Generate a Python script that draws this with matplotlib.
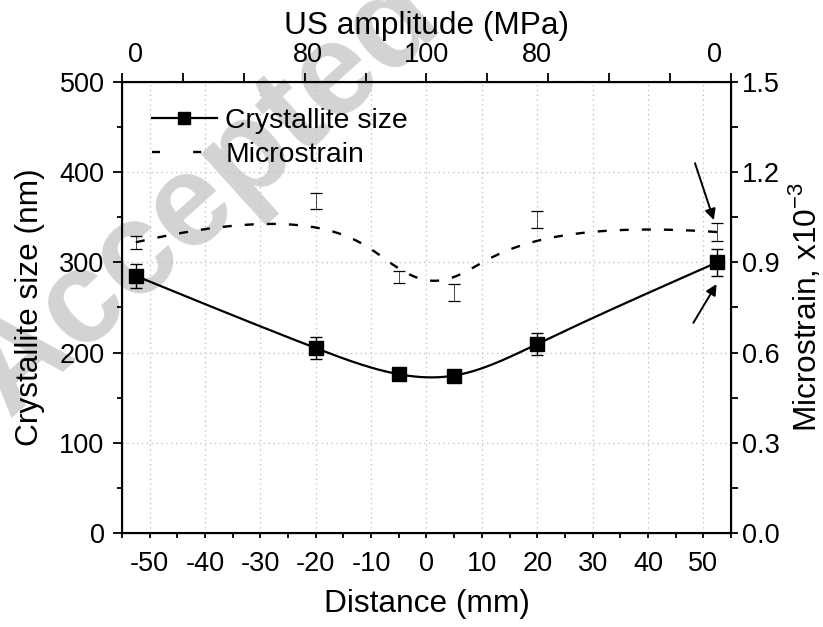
import numpy as np
import matplotlib
matplotlib.use('Agg')
import matplotlib.pyplot as plt
from matplotlib.lines import Line2D
from matplotlib.ticker import MultipleLocator, FormatStrFormatter

plt.rcParams['font.family'] = ['Liberation Sans', 'DejaVu Sans']
plt.rcParams['lines.scale_dashes'] = False
plt.rcParams['axes.unicode_minus'] = False

# data
distance = [-52.5, -20, -5, 5, 20, 52.5]
size_nm = [285, 205, 176, 174.5, 209.5, 300]
size_err = [13, 12, 4, 4, 12, 15]
strain = [0.967, 1.104, 0.851, 0.800, 1.042, 1.001]
strain_err = [0.022, 0.028, 0.021, 0.028, 0.028, 0.029]

top_pos = [-52.5, -21.5, 0, 20, 52]
top_labels = ['0', '80', '100', '80', '0']


def natural_spline(x, y, xs):
    # interpolating cubic spline, natural ends
    x = np.asarray(x, float)
    y = np.asarray(y, float)
    n = len(x)
    h = np.diff(x)
    A = np.zeros((n, n))
    r = np.zeros(n)
    A[0, 0] = A[-1, -1] = 1
    for i in range(1, n - 1):
        A[i, i - 1] = h[i - 1]
        A[i, i] = 2 * (h[i - 1] + h[i])
        A[i, i + 1] = h[i]
        r[i] = 6 * ((y[i + 1] - y[i]) / h[i] - (y[i] - y[i - 1]) / h[i - 1])
    M = np.linalg.solve(A, r)
    out = np.empty_like(xs)
    for k, xv in enumerate(xs):
        i = min(max(np.searchsorted(x, xv) - 1, 0), n - 2)
        t1 = x[i + 1] - xv
        t0 = xv - x[i]
        out[k] = (M[i] * t1**3 + M[i + 1] * t0**3) / (6 * h[i]) \
            + (y[i] / h[i] - M[i] * h[i] / 6) * t1 \
            + (y[i + 1] / h[i] - M[i + 1] * h[i] / 6) * t0
    return out


def bspline(px, py, num=300, k=3):
    # clamped cubic B-spline using the points as control points
    P = np.column_stack([px, py]).astype(float)
    n = len(P)
    knots = np.concatenate([np.zeros(k), np.arange(n - k + 1), np.full(k, n - k)])
    ts = np.linspace(0, n - k, num)
    ts[-1] -= 1e-9

    def basis(i, d, t):
        if d == 0:
            return 1.0 if knots[i] <= t < knots[i + 1] else 0.0
        a = b = 0.0
        if knots[i + d] != knots[i]:
            a = (t - knots[i]) / (knots[i + d] - knots[i]) * basis(i, d - 1, t)
        if knots[i + d + 1] != knots[i + 1]:
            b = (knots[i + d + 1] - t) / (knots[i + d + 1] - knots[i + 1]) * basis(i + 1, d - 1, t)
        return a + b

    pts = np.array([sum(basis(i, k, t) * P[i] for i in range(n)) for t in ts])
    return pts[:, 0], pts[:, 1]


fig = plt.figure(figsize=(8.23, 6.27), dpi=100)
ax = fig.add_axes([0.1482, 0.150, 0.740, 0.7192])
ax.set_facecolor('none')

# faint watermark behind the plot
fig.text(0.012, 0.33, 'Accepted manuscript', rotation=42, rotation_mode='anchor',
         fontsize=94, fontweight='bold', color='#d3d3d3', ha='left', va='baseline',
         zorder=-1, clip_on=True)

xs = np.linspace(distance[0], distance[-1], 400)
ax.plot(xs, natural_spline(distance, size_nm, xs), color='k', lw=1.6, zorder=3)
ax.errorbar(distance, size_nm, yerr=size_err, fmt='none', ecolor='k', elinewidth=1.0,
            capsize=4.5, capthick=1.0, zorder=3)
ax.plot(distance, size_nm, 's', color='k', ms=9.5, zorder=4)

ax.set_xlim(-55, 55)
ax.set_ylim(0, 500)
ax.set_xticks(np.arange(-50, 51, 10))
ax.xaxis.set_minor_locator(MultipleLocator(5))
ax.set_yticks(np.arange(0, 501, 100))
ax.yaxis.set_minor_locator(MultipleLocator(50))
ax.grid(True, which='major', ls=(0, (1, 2.5)), color='#c0c0c0', lw=0.9)
ax.tick_params(axis='x', which='both', length=3.8, width=1.3, pad=9, labelsize=19.5)
ax.tick_params(axis='y', which='major', length=6.5, width=1.3, pad=6, labelsize=19.5)
ax.tick_params(axis='y', which='minor', length=3.5, width=1.3)
ax.set_xlabel('Distance (mm)', fontsize=22.8, labelpad=9)
ax.set_ylabel('Crystallite size (nm)', fontsize=22.8, labelpad=10)
for s in ax.spines.values():
    s.set_linewidth(1.5)

ax2 = ax.twinx()
bx, by = bspline(distance, strain)
ax2.plot(bx, by, color='k', lw=1.7, ls=(0, (6.5, 9.4)), zorder=3)
ax2.errorbar(distance, strain, yerr=strain_err, fmt='none', ecolor='k', elinewidth=0.5,
             capsize=4.5, capthick=0.9, zorder=3)
ax2.set_ylim(0, 1.5)
ax2.set_yticks(np.arange(0, 1.51, 0.3))
ax2.yaxis.set_minor_locator(MultipleLocator(0.15))
ax2.yaxis.set_major_formatter(FormatStrFormatter('%.1f'))
ax2.tick_params(axis='y', which='major', length=5, width=1.3, pad=3, labelsize=19.5)
ax2.tick_params(axis='y', which='minor', length=5, width=1.3)
ax2.set_ylabel('Microstrain, x10$^{\\mathregular{-3}}$', fontsize=22.8, labelpad=5)

ax3 = ax.twiny()
ax3.set_xlim(-55, 55)
ax3.xaxis.remove_overlapping_locs = False
ax3.set_xticks(top_pos)
ax3.set_xticklabels(top_labels)
ax3.set_xticks(np.arange(-55, 56, 11), minor=True)
ax3.tick_params(axis='x', which='major', length=0, pad=10, labelsize=19.5)
ax3.tick_params(axis='x', which='minor', length=6.5, width=1.3)
ax3.set_xlabel('US amplitude (MPa)', fontsize=22.8, labelpad=5.5)

# arrows pointing at the treated end
ax.annotate('', xy=(51.9, 347), xytext=(48.5, 410),
            arrowprops=dict(arrowstyle='-|>', color='k', lw=1.4, mutation_scale=16,
                            shrinkA=0, shrinkB=0))
ax.annotate('', xy=(52.4, 276), xytext=(48.2, 233),
            arrowprops=dict(arrowstyle='-|>', color='k', lw=1.4, mutation_scale=16,
                            shrinkA=0, shrinkB=0))

h1 = Line2D([], [], color='k', lw=1.6, marker='s', ms=8)
h2 = Line2D([], [], color='k', lw=1.7, ls=(0, (5.8, 23.8)))
ax3.legend([h1, h2], ['Crystallite size', 'Microstrain'], loc='upper left',
           bbox_to_anchor=(0.03, 0.968), frameon=False, fontsize=20.4,
           handlelength=2.3, handletextpad=0.3, labelspacing=0.3, borderaxespad=0)

fig.savefig('out.png', dpi=100)
